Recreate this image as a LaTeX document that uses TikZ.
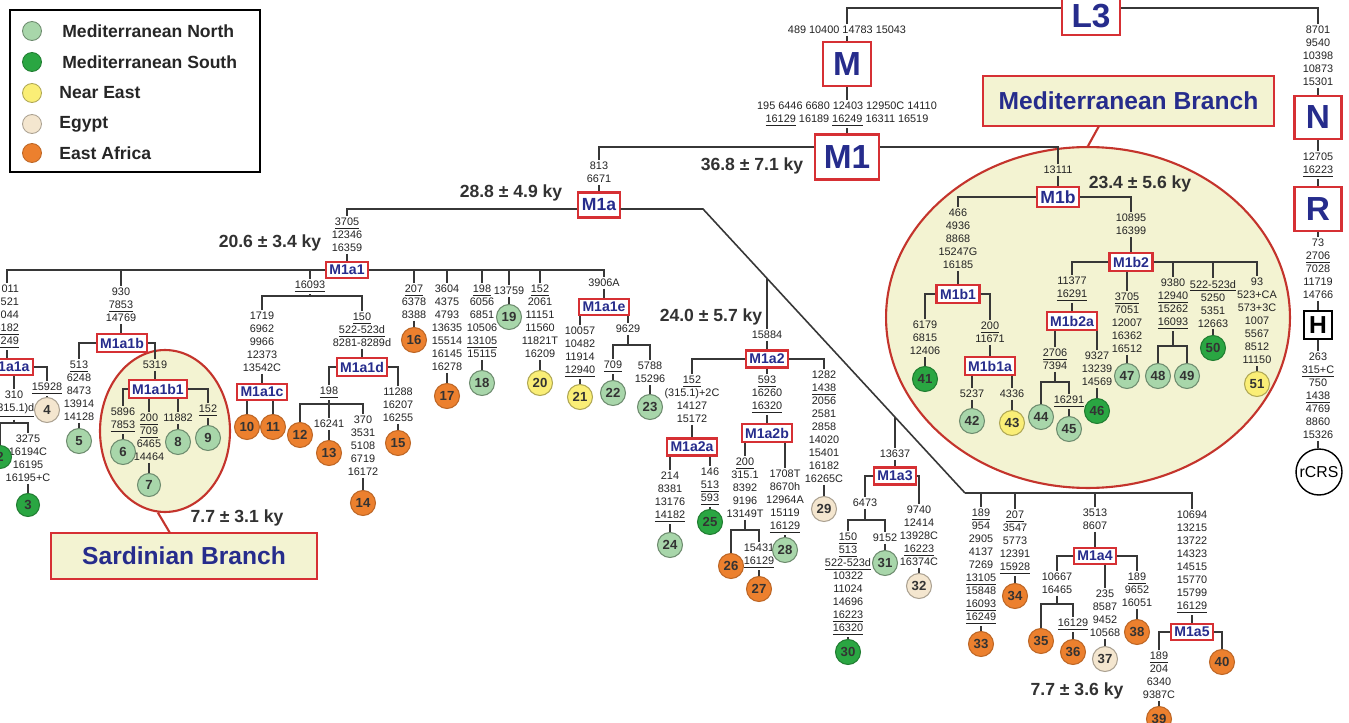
\documentclass[tikz,border=0pt]{standalone}
\usepackage{fontspec}
\setmainfont{Liberation Sans}
\usetikzlibrary{shapes.geometric}

\definecolor{boxred}{RGB}{214,48,52}
\definecolor{hapblue}{RGB}{38,44,140}
\definecolor{linegray}{RGB}{55,55,55}
\definecolor{numgray}{RGB}{35,35,35}
\definecolor{agegray}{RGB}{50,50,50}
\definecolor{medfill}{RGB}{243,243,210}
\definecolor{ellred}{RGB}{196,52,44}
\definecolor{colN}{RGB}{168,214,170}
\definecolor{colS}{RGB}{42,166,66}
\definecolor{colNE}{RGB}{250,238,118}
\definecolor{colEg}{RGB}{244,230,207}
\definecolor{colEA}{RGB}{236,128,46}

\newcommand{\und}[1]{\underline{#1}}

\tikzset{
  br/.style={draw=linegray,line width=0.9pt},
  mut/.style={font=\fontsize{6.2}{7.4}\selectfont,align=center,anchor=north,inner sep=1pt,text=numgray},
  hap/.style={draw=boxred,line width=1.2pt,fill=white,text=hapblue,inner xsep=2pt,inner ysep=2pt,font=\fontsize{8}{8}\selectfont\bfseries},
  hapmid/.style={hap,font=\fontsize{10}{10}\selectfont\bfseries},
  hapbig/.style={draw=boxred,line width=1.6pt,fill=white,text=hapblue,inner sep=0pt,font=\fontsize{19}{19}\selectfont\bfseries},
  smp/.style={circle,inner sep=0pt,minimum size=0.5cm,line width=0.6pt,font=\fontsize{7.5}{7.5}\selectfont\bfseries,text=black!80},
  medN/.style={smp,fill=colN,draw=colN!65!black},
  medS/.style={smp,fill=colS,draw=colS!75!black},
  neast/.style={smp,fill=colNE,draw=colNE!70!black},
  egy/.style={smp,fill=colEg,draw=colEg!70!black},
  eafr/.style={smp,fill=colEA,draw=colEA!80!black},
  age/.style={font=\fontsize{10}{10}\selectfont\bfseries,text=agegray},
  brbox/.style={draw=boxred,line width=1.4pt,fill=medfill,text=hapblue,font=\fontsize{14}{14}\selectfont\bfseries},
  branchell/.style={ellipse,draw=ellred,line width=1.2pt,fill=medfill,inner sep=0pt},
  lg/.style={circle,inner sep=0pt,minimum size=0.38cm,line width=0.5pt},
  lgtxt/.style={anchor=west,inner sep=0pt,font=\fontsize{10}{10}\selectfont\bfseries,text=black!85},
}

\begin{document}
\begin{tikzpicture}[x=0.02cm,y=-0.02cm]
\useasboundingbox (0,0) rectangle (1349,723);
\fill[white] (0,0) rectangle (1349,723);
\clip (0,0) rectangle (1349,723);

% legend
\draw[line width=1.1pt] (10,10) rectangle (260,172);
\node[lg,fill=colN,draw=colN!65!black] (lgN) at (32,31) {};
\node[lg,fill=colS,draw=colS!75!black] (lgS) at (32,62) {};
\node[lg,fill=colNE,draw=colNE!70!black] (lgNE) at (32,93) {};
\node[lg,fill=colEg,draw=colEg!70!black] (lgEg) at (32,124) {};
\node[lg,fill=colEA,draw=colEA!80!black] (lgEA) at (32,153) {};
\node[lgtxt] (lgNt) at (62,31) {Mediterranean North};
\node[lgtxt] (lgSt) at (62,62) {Mediterranean South};
\node[lgtxt] (lgNEt) at (59,93) {Near East};
\node[lgtxt] (lgEgt) at (59,124) {Egypt};
\node[lgtxt] (lgEAt) at (59,153) {East Africa};

% branch areas
\node[branchell,minimum width=8.08cm,minimum height=6.82cm] (medell) at (1088,317.5) {};
\node[branchell,minimum width=2.6cm,minimum height=3.24cm] (sardell) at (165,431) {};
\node[brbox,minimum width=5.82cm,minimum height=1cm] (medbox) at (1128.5,101) {Mediterranean Branch};
\node[brbox,minimum width=5.32cm,minimum height=0.92cm] (sardbox) at (184,556) {Sardinian Branch};
\coordinate (medtip) at (1099,126);
\coordinate (sardtip) at (170,533);
\draw[ellred,line width=1.2pt] (medtip) -- (medell.north);
\draw[ellred,line width=1.2pt] (sardell.265) -- (sardtip);

% ages
\node[age] (a1) at (752,166) {36.8 ± 7.1 ky};
\node[age] (a2) at (511,193) {28.8 ± 4.9 ky};
\node[age] (a3) at (270,243) {20.6 ± 3.4 ky};
\node[age] (a4) at (711,317) {24.0 ± 5.7 ky};
\node[age] (a5) at (1140,184) {23.4 ± 5.6 ky};
\node[age] (a6) at (237,518) {7.7 ± 3.1 ky};
\node[age] (a7) at (1077,691) {7.7 ± 3.6 ky};

% haplogroups
\node[hapbig,minimum width=1.16cm,minimum height=0.74cm] (L3) at (1091,16.5) {L3};
\node[hapbig,minimum width=0.96cm,minimum height=0.88cm] (M) at (847,64) {M};
\node[hapbig,minimum width=1.28cm,minimum height=0.9cm] (M1) at (847,157) {M1};
\node[hapbig,minimum width=0.94cm,minimum height=0.86cm] (N) at (1318,117.5) {N};
\node[hapbig,minimum width=0.94cm,minimum height=0.88cm] (R) at (1318,209) {R};
\node[draw=black,line width=0.8pt,fill=white,minimum size=0.56cm,inner sep=0pt,font=\fontsize{14}{14}\selectfont\bfseries] (H) at (1318,325) {H};
\node[circle,draw=black,line width=0.8pt,minimum size=0.92cm,inner sep=0pt,font=\fontsize{9}{9}\selectfont] (rCRS) at (1319,472) {rCRS};
\node[hapmid,minimum height=0.5cm] (M1a) at (599,205) {M1a};
\node[hapmid] (M1b) at (1058,197) {M1b};
\node[hap] (M1a1) at (347,270) {M1a1};
\node[hap] (M1a1a) at (8,367) {M1a1a};
\node[hap] (M1a1b) at (122,343) {M1a1b};
\node[hap] (M1a1b1) at (158,389) {M1a1b1};
\node[hap] (M1a1c) at (262,392) {M1a1c};
\node[hap] (M1a1d) at (362,367) {M1a1d};
\node[hap] (M1a1e) at (604,307) {M1a1e};
\node[hap] (M1a2) at (767,359) {M1a2};
\node[hap] (M1a2a) at (692,447) {M1a2a};
\node[hap] (M1a2b) at (767,433) {M1a2b};
\node[hap] (M1a3) at (895,476) {M1a3};
\node[hap] (M1a4) at (1095,556) {M1a4};
\node[hap] (M1a5) at (1192,632) {M1a5};
\node[hap] (M1b1) at (958,294) {M1b1};
\node[hap] (M1b1a) at (990,366) {M1b1a};
\node[hap] (M1b2) at (1131,262) {M1b2};
\node[hap] (M1b2a) at (1072,321) {M1b2a};

% mutations
\node[mut] (tM) at (847,24) {489 10400 14783 15043};
\node[mut] (tM1) at (847,100) {195 6446 6680 12403 12950C 14110\\\und{16129} 16189 \und{16249} 16311 16519};
\node[mut] (t813) at (599,160) {813\\6671};
\node[mut] (t3705) at (347,216) {\und{3705}\\12346\\16359};
\node[mut,anchor=north east,align=right] (tA1a) at (21,283) {011\\521\\1044\\\und{4182}\\\und{6249}};
\node[mut] (t15928) at (47,381) {\und{15928}};
\node[mut] (t310) at (14,389) {310\\\und{(315.1)d}};
\node[mut] (t3275) at (28,433) {3275\\16194C\\16195\\16195+C};
\node[mut] (t930) at (121,286) {930\\\und{7853}\\14769};
\node[mut] (t513) at (79,359) {\und{513}\\6248\\8473\\13914\\14128};
\node[mut] (t5319) at (155,359) {5319};
\node[mut] (t5896) at (123,406) {5896\\\und{7853}};
\node[mut] (t200a) at (149,412) {\und{200}\\\und{709}\\6465\\14464};
\node[mut] (t11882) at (178,412) {11882};
\node[mut] (t152a) at (208,403) {\und{152}};
\node[mut] (t16093) at (310,279) {\und{16093}};
\node[mut] (t1719) at (262,310) {1719\\6962\\9966\\12373\\13542C};
\node[mut] (t150) at (362,311) {\und{150}\\\und{522-523d}\\8281-8289d};
\node[mut] (t198a) at (329,385) {\und{198}};
\node[mut] (t16241) at (329,418) {16241};
\node[mut] (t370) at (363,414) {370\\3531\\5108\\6719\\16172};
\node[mut] (t11288) at (398,386) {11288\\16207\\16255};
\node[mut] (t207a) at (414,283) {\und{207}\\6378\\8388};
\node[mut] (t3604) at (447,283) {3604\\4375\\4793\\13635\\15514\\16145\\16278};
\node[mut] (t198b) at (482,283) {\und{198}\\6056\\6851\\10506\\\und{13105}\\15115};
\node[mut] (t13759) at (509,285) {13759};
\node[mut] (t152b) at (540,283) {\und{152}\\2061\\11151\\11560\\11821T\\16209};
\node[mut] (t3906) at (604,277) {3906A};
\node[mut] (t10057) at (580,325) {10057\\10482\\11914\\\und{12940}};
\node[mut] (t9629) at (628,323) {9629};
\node[mut] (t709) at (613,359) {\und{709}};
\node[mut] (t5788) at (650,360) {5788\\15296};
\node[mut] (t15884) at (767,329) {15884};
\node[mut] (t152c) at (692,374) {\und{152}\\(315.1)+2C\\14127\\15172};
\node[mut] (t214) at (670,470) {214\\8381\\13176\\\und{14182}};
\node[mut] (t146) at (710,466) {146\\\und{513}\\\und{593}};
\node[mut] (t593) at (767,374) {\und{593}\\16260\\\und{16320}};
\node[mut] (t200b) at (745,456) {\und{200}\\315.1\\8392\\9196\\13149T};
\node[mut] (t15431) at (759,542) {15431\\\und{16129}};
\node[mut] (t1708) at (785,468) {1708T\\8670h\\12964A\\15119\\\und{16129}};
\node[mut] (t1282) at (824,369) {1282\\\und{1438}\\2056\\2581\\2858\\14020\\15401\\16182\\16265C};
\node[mut] (t13637) at (895,448) {13637};
\node[mut] (t6473) at (865,497) {6473};
\node[mut] (t150b) at (848,531) {\und{150}\\\und{513}\\\und{522-523d}\\10322\\11024\\14696\\\und{16223}\\\und{16320}};
\node[mut] (t9152) at (885,532) {9152};
\node[mut] (t9740) at (919,504) {9740\\12414\\13928C\\\und{16223}\\16374C};
\node[mut] (t189a) at (981,507) {\und{189}\\954\\2905\\4137\\7269\\\und{13105}\\15848\\\und{16093}\\\und{16249}};
\node[mut] (t207b) at (1015,509) {\und{207}\\3547\\5773\\12391\\\und{15928}};
\node[mut] (t3513) at (1095,507) {3513\\8607};
\node[mut] (t10667) at (1057,571) {10667\\16465};
\node[mut] (t16129c) at (1073,617) {\und{16129}};
\node[mut] (t235) at (1105,588) {235\\8587\\9452\\10568};
\node[mut] (t189b) at (1137,571) {\und{189}\\9652\\16051};
\node[mut] (t10694) at (1192,509) {10694\\13215\\13722\\14323\\14515\\15770\\15799\\\und{16129}};
\node[mut] (t189c) at (1159,650) {\und{189}\\204\\6340\\9387C};
\node[mut] (t13111) at (1058,164) {13111};
\node[mut] (t466) at (958,207) {466\\4936\\8868\\15247G\\16185};
\node[mut] (t6179) at (925,319) {6179\\6815\\12406};
\node[mut] (t200c) at (990,320) {\und{200}\\11671};
\node[mut] (t5237) at (972,388) {5237};
\node[mut] (t4336) at (1012,388) {4336};
\node[mut] (t10895) at (1131,212) {10895\\16399};
\node[mut] (t11377) at (1072,275) {11377\\\und{16291}};
\node[mut] (t2706) at (1055,347) {\und{2706}\\7394};
\node[mut] (t16291b) at (1069,394) {\und{16291}};
\node[mut] (t9327) at (1097,350) {9327\\13239\\14569};
\node[mut] (t3705b) at (1127,291) {\und{3705}\\7051\\12007\\16362\\16512};
\node[mut] (t9380) at (1173,277) {9380\\\und{12940}\\15262\\\und{16093}};
\node[mut] (t522) at (1213,278) {\und{522-523d}\\5250\\5351\\12663};
\node[mut] (t93) at (1257,276) {93\\523+CA\\573+3C\\1007\\5567\\8512\\11150};
\node[mut] (t8701) at (1318,24) {8701\\9540\\10398\\10873\\15301};
\node[mut] (t12705) at (1318,151) {12705\\\und{16223}};
\node[mut] (t73) at (1318,237) {73\\\und{2706}\\7028\\11719\\14766};
\node[mut] (t263) at (1318,351) {263\\\und{315+C}\\750\\\und{1438}\\4769\\8860\\15326};

% samples
\node[medS,minimum size=0.46cm] (s2) at (0,457) {2};
\node[medS,minimum size=0.46cm] (s3) at (28,505) {3};
\node[egy] (s4) at (47,410) {4};
\node[medN] (s5) at (79,441) {5};
\node[medN] (s6) at (123,452) {6};
\node[medN,minimum size=0.46cm] (s7) at (149,485) {7};
\node[medN] (s8) at (178,442) {8};
\node[medN] (s9) at (208,438) {9};
\node[eafr] (s10) at (247,427) {10};
\node[eafr] (s11) at (273,427) {11};
\node[eafr] (s12) at (300,435) {12};
\node[eafr] (s13) at (329,453) {13};
\node[eafr] (s14) at (363,503) {14};
\node[eafr] (s15) at (398,443) {15};
\node[eafr] (s16) at (414,340) {16};
\node[eafr] (s17) at (447,396) {17};
\node[medN] (s18) at (482,383) {18};
\node[medN] (s19) at (509,317) {19};
\node[neast] (s20) at (540,383) {20};
\node[neast] (s21) at (580,397) {21};
\node[medN] (s22) at (613,393) {22};
\node[medN] (s23) at (650,407) {23};
\node[medN] (s24) at (670,545) {24};
\node[medS] (s25) at (710,522) {25};
\node[eafr] (s26) at (731,566) {26};
\node[eafr] (s27) at (759,589) {27};
\node[medN] (s28) at (785,550) {28};
\node[egy] (s29) at (824,509) {29};
\node[medS] (s30) at (848,652) {30};
\node[medN] (s31) at (885,563) {31};
\node[egy] (s32) at (919,586) {32};
\node[eafr] (s33) at (981,644) {33};
\node[eafr] (s34) at (1015,596) {34};
\node[eafr] (s35) at (1041,641) {35};
\node[eafr] (s36) at (1073,652) {36};
\node[egy] (s37) at (1105,659) {37};
\node[eafr] (s38) at (1137,632) {38};
\node[eafr] (s39) at (1159,719) {39};
\node[eafr] (s40) at (1222,662) {40};
\node[medS] (s41) at (925,379) {41};
\node[medN] (s42) at (972,421) {42};
\node[neast] (s43) at (1012,423) {43};
\node[medN] (s44) at (1041,417) {44};
\node[medN] (s45) at (1069,429) {45};
\node[medS] (s46) at (1097,411) {46};
\node[medN] (s47) at (1127,376) {47};
\node[medN] (s48) at (1158,376) {48};
\node[medN] (s49) at (1187,376) {49};
\node[medS] (s50) at (1213,348) {50};
\node[neast] (s51) at (1257,384) {51};

% bars and bends
\coordinate (topbar) at (0,8);
\coordinate (m1bar) at (0,147);
\coordinate (m1abar) at (0,209);
\coordinate (dk1) at (703,209);
\coordinate (dk2) at (965,493);
\coordinate (d2) at (767,278.4);
\coordinate (d3) at (895,417.1);
\coordinate (b310) at (14,423);
\coordinate (b16093) at (310,296);
\coordinate (b198) at (329,404);
\coordinate (b9629) at (628,345);
\coordinate (b200) at (745,530);
\coordinate (b6473) at (865,520);
\coordinate (b10667) at (1057,604);
\coordinate (b2706) at (1055,382);
\coordinate (b9380) at (1173,346);

% tree
\draw[br] (tM.north) |- (L3.west |- topbar);
\draw[br] (L3.east |- topbar) -| (t8701.north);
\draw[br] (tM.south) -- (M.north);
\draw[br] (M.south) -- (tM1.north);
\draw[br] (tM1.south) -- (M1.north);
\draw[br] (M1.west |- m1bar) -| (t813.north);
\draw[br] (M1.east |- m1bar) -| (t13111.north);
\draw[br] (t813.south) -- (M1a.north);
\draw[br] (M1a.west |- m1abar) -| (t3705.north);
\draw[br] (M1a.east |- m1abar) -- (dk1) -- (dk2);
\draw[br] (d2) -- (t15884.north);
\draw[br] (d3) -- (t13637.north);
\draw[br] (t3705.south) -- (M1a1.north);
\draw[br] (M1a1.west) -| (tA1a.north);
\draw[br] (M1a1.west) -| (t930.north);
\draw[br] (M1a1.west) -| (t16093.north);
\draw[br] (M1a1.east) -| (t207a.north);
\draw[br] (M1a1.east) -| (t3604.north);
\draw[br] (M1a1.east) -| (t198b.north);
\draw[br] (M1a1.east) -| (t13759.north);
\draw[br] (M1a1.east) -| (t152b.north);
\draw[br] (M1a1.east) -| (t3906.north);
\draw[br] (tA1a.south) -- (tA1a.south |- M1a1a.north);
\draw[br] (M1a1a.east) -| (t15928.north);
\draw[br] (t15928.south) -- (s4.north);
\draw[br] (t310.north |- M1a1a.south) -- (t310.north);
\draw[br] (t310.south) -- (b310);
\draw[br] (b310) -| (s2.north);
\draw[br] (b310) -| (t3275.north);
\draw[br] (t3275.south) -- (s3.north);
\draw[br] (t930.south) -- (t930.south |- M1a1b.north);
\draw[br] (M1a1b.west) -| (t513.north);
\draw[br] (t513.south) -- (s5.north);
\draw[br] (M1a1b.east) -| (t5319.north);
\draw[br] (t5319.south) -- (t5319.south |- M1a1b1.north);
\draw[br] (M1a1b1.west) -| (t5896.north);
\draw[br] (t5896.south) -- (s6.north);
\draw[br] (t200a.north |- M1a1b1.south) -- (t200a.north);
\draw[br] (t200a.south) -- (s7.north);
\draw[br] (t11882.north |- M1a1b1.south) -- (t11882.north);
\draw[br] (t11882.south) -- (s8.north);
\draw[br] (M1a1b1.east) -| (t152a.north);
\draw[br] (t152a.south) -- (s9.north);
\draw[br] (t16093.south) -- (b16093);
\draw[br] (b16093) -| (t1719.north);
\draw[br] (b16093) -| (t150.north);
\draw[br] (t1719.south) -- (M1a1c.north);
\draw[br] (s10.north |- M1a1c.south) -- (s10.north);
\draw[br] (s11.north |- M1a1c.south) -- (s11.north);
\draw[br] (t150.south) -- (M1a1d.north);
\draw[br] (M1a1d.west) -| (t198a.north);
\draw[br] (t198a.south) -- (b198);
\draw[br] (b198) -| (s12.north);
\draw[br] (b198) -- (t16241.north);
\draw[br] (b198) -| (t370.north);
\draw[br] (t16241.south) -- (s13.north);
\draw[br] (t370.south) -- (s14.north);
\draw[br] (M1a1d.east) -| (t11288.north);
\draw[br] (t11288.south) -- (s15.north);
\draw[br] (t207a.south) -- (s16.north);
\draw[br] (t3604.south) -- (s17.north);
\draw[br] (t198b.south) -- (s18.north);
\draw[br] (t13759.south) -- (s19.north);
\draw[br] (t152b.south) -- (s20.north);
\draw[br] (t3906.south) -- (M1a1e.north);
\draw[br] (t10057.north |- M1a1e.south) -- (t10057.north);
\draw[br] (t10057.south) -- (s21.north);
\draw[br] (t9629.north |- M1a1e.south) -- (t9629.north);
\draw[br] (t9629.south) -- (b9629);
\draw[br] (b9629) -| (t709.north);
\draw[br] (b9629) -| (t5788.north);
\draw[br] (t709.south) -- (s22.north);
\draw[br] (t5788.south) -- (s23.north);
\draw[br] (t15884.south) -- (M1a2.north);
\draw[br] (M1a2.west) -| (t152c.north);
\draw[br] (t152c.south) -- (M1a2a.north);
\draw[br] (t214.north |- M1a2a.south) -- (t214.north);
\draw[br] (t214.south) -- (s24.north);
\draw[br] (t146.north |- M1a2a.south) -- (t146.north);
\draw[br] (t146.south) -- (s25.north);
\draw[br] (M1a2.south) -- (t593.north);
\draw[br] (t593.south) -- (M1a2b.north);
\draw[br] (t200b.north |- M1a2b.south) -- (t200b.north);
\draw[br] (t200b.south) -- (b200);
\draw[br] (b200) -| (s26.north);
\draw[br] (b200) -| (t15431.north);
\draw[br] (t15431.south) -- (s27.north);
\draw[br] (t1708.north |- M1a2b.south) -- (t1708.north);
\draw[br] (t1708.south) -- (s28.north);
\draw[br] (M1a2.east) -| (t1282.north);
\draw[br] (t1282.south) -- (s29.north);
\draw[br] (t13637.south) -- (M1a3.north);
\draw[br] (M1a3.west) -| (t6473.north);
\draw[br] (t6473.south) -- (b6473);
\draw[br] (b6473) -| (t150b.north);
\draw[br] (b6473) -| (t9152.north);
\draw[br] (t150b.south) -- (s30.north);
\draw[br] (t9152.south) -- (s31.north);
\draw[br] (M1a3.east) -| (t9740.north);
\draw[br] (t9740.south) -- (s32.north);
\draw[br] (dk2) -| (t189a.north);
\draw[br] (dk2) -| (t207b.north);
\draw[br] (dk2) -| (t3513.north);
\draw[br] (dk2) -| (t10694.north);
\draw[br] (t189a.south) -- (s33.north);
\draw[br] (t207b.south) -- (s34.north);
\draw[br] (t3513.south) -- (M1a4.north);
\draw[br] (M1a4.west) -| (t10667.north);
\draw[br] (t10667.south) -- (b10667);
\draw[br] (b10667) -| (s35.north);
\draw[br] (b10667) -| (t16129c.north);
\draw[br] (t16129c.south) -- (s36.north);
\draw[br] (t235.north |- M1a4.south) -- (t235.north);
\draw[br] (t235.south) -- (s37.north);
\draw[br] (M1a4.east) -| (t189b.north);
\draw[br] (t189b.south) -- (s38.north);
\draw[br] (t10694.south) -- (M1a5.north);
\draw[br] (M1a5.west) -| (t189c.north);
\draw[br] (t189c.south) -- (s39.north);
\draw[br] (M1a5.east) -| (s40.north);
\draw[br] (t13111.south) -- (M1b.north);
\draw[br] (M1b.west) -| (t466.north);
\draw[br] (t466.south) -- (M1b1.north);
\draw[br] (M1b1.west) -| (t6179.north);
\draw[br] (t6179.south) -- (s41.north);
\draw[br] (M1b1.east) -| (t200c.north);
\draw[br] (t200c.south) -- (M1b1a.north);
\draw[br] (t5237.north |- M1b1a.south) -- (t5237.north);
\draw[br] (t5237.south) -- (s42.north);
\draw[br] (t4336.north |- M1b1a.south) -- (t4336.north);
\draw[br] (t4336.south) -- (s43.north);
\draw[br] (M1b.east) -| (t10895.north);
\draw[br] (t10895.south) -- (M1b2.north);
\draw[br] (M1b2.west) -| (t11377.north);
\draw[br] (t11377.south) -- (M1b2a.north);
\draw[br] (t2706.north |- M1b2a.south) -- (t2706.north);
\draw[br] (t2706.south) -- (b2706);
\draw[br] (b2706) -| (s44.north);
\draw[br] (b2706) -| (t16291b.north);
\draw[br] (t16291b.south) -- (s45.north);
\draw[br] (t9327.north |- M1b2a.south) -- (t9327.north);
\draw[br] (t9327.south) -- (s46.north);
\draw[br] (t3705b.north |- M1b2.south) -- (t3705b.north);
\draw[br] (t3705b.south) -- (s47.north);
\draw[br] (M1b2.east) -| (t9380.north);
\draw[br] (t9380.south) -- (b9380);
\draw[br] (b9380) -| (s48.north);
\draw[br] (b9380) -| (s49.north);
\draw[br] (M1b2.east) -| (t522.north);
\draw[br] (t522.south) -- (s50.north);
\draw[br] (M1b2.east) -| (t93.north);
\draw[br] (t93.south) -- (s51.north);
\draw[br] (t8701.south) -- (N.north);
\draw[br] (N.south) -- (t12705.north);
\draw[br] (t12705.south) -- (R.north);
\draw[br] (R.south) -- (t73.north);
\draw[br] (t73.south) -- (H.north);
\draw[br] (H.south) -- (t263.north);
\draw[br] (t263.south) -- (t263.south |- rCRS.north);
\end{tikzpicture}
\end{document}
